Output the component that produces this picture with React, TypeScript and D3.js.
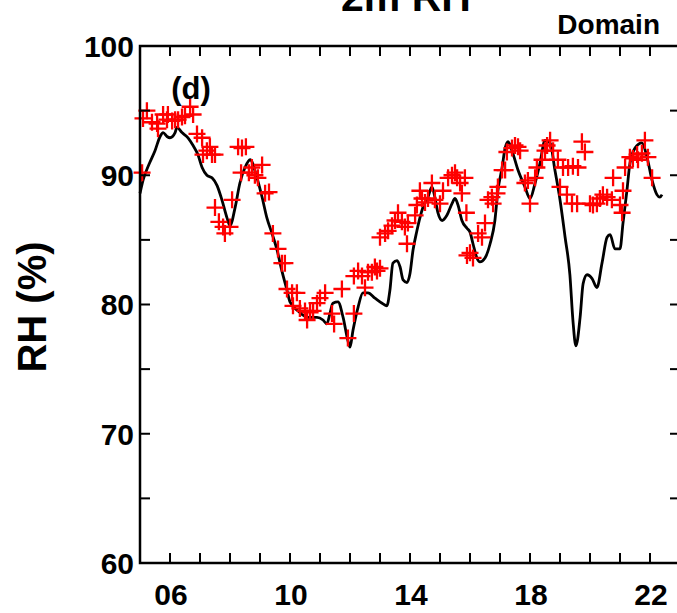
import React from "react";
import * as d3 from "d3";

// Model (black line): time (day) and RH (%)
const modelT = [5.00,5.10,5.33,5.50,5.67,5.77,5.90,6.00,6.17,6.23,6.40,6.60,6.77,6.93,7.07,7.23,7.40,7.57,7.73,7.90,8.00,8.17,8.33,8.50,8.67,8.90,9.07,9.23,9.40,9.57,9.73,9.90,10.00,10.27,10.60,10.90,11.10,11.23,11.33,11.43,11.60,11.77,11.93,12.00,12.10,12.27,12.43,12.60,12.83,13.07,13.23,13.33,13.43,13.57,13.67,13.77,13.90,14.00,14.10,14.23,14.33,14.43,14.60,14.73,14.83,14.93,15.07,15.23,15.40,15.50,15.60,15.73,15.90,16.00,16.10,16.23,16.33,16.50,16.67,16.83,16.93,17.07,17.17,17.27,17.40,17.60,17.83,18.00,18.17,18.33,18.50,18.67,18.83,19.00,19.17,19.33,19.43,19.53,19.67,19.77,19.90,20.07,20.23,20.40,20.57,20.67,20.83,21.00,21.10,21.23,21.33,21.50,21.73,21.90,22.07,22.23,22.33,22.40];
const modelRH = [88.6,89.6,91.0,91.9,93.0,93.3,93.0,92.9,93.3,93.7,93.3,92.9,92.3,91.6,90.6,90.0,89.8,89.2,88.1,86.7,86.1,87.5,89.4,90.6,91.2,89.8,88.3,86.7,85.5,84.2,82.6,81.1,80.2,79.5,79.0,79.0,78.8,78.5,79.3,80.1,80.2,79.0,77.2,76.7,78.0,79.8,80.9,80.9,80.5,80.1,79.9,81.1,83.2,83.4,82.9,81.9,81.7,82.4,84.2,85.7,86.7,87.5,88.3,89.1,88.3,87.1,86.5,86.9,87.8,88.2,87.7,86.5,85.9,85.6,84.7,83.6,83.3,83.6,84.7,86.5,88.8,90.6,92.1,92.6,91.9,90.4,89.1,88.2,89.4,90.9,92.7,92.5,90.4,88.1,85.2,82.3,78.8,76.8,79.0,81.6,82.3,82.0,81.3,83.2,85.2,85.4,84.3,84.3,86.3,88.8,90.9,92.1,92.5,91.4,89.6,88.5,88.3,88.5];

// Observations (red plus markers)
const obsT = [5.07,5.10,5.23,5.40,5.57,5.60,5.77,5.90,5.93,6.07,6.17,6.27,6.40,6.50,6.67,6.77,6.90,7.07,7.10,7.23,7.33,7.40,7.50,7.50,7.63,7.77,7.83,8.00,8.07,8.27,8.40,8.53,8.37,8.63,8.73,8.83,8.93,9.07,9.17,9.30,9.43,9.60,9.73,9.83,9.90,10.07,10.10,10.23,10.33,10.50,10.57,10.67,10.77,10.90,11.00,11.17,11.40,11.47,11.73,11.93,12.13,12.13,12.27,12.40,12.50,12.60,12.73,12.83,12.90,13.00,13.00,13.17,13.27,13.40,13.50,13.60,13.73,13.83,13.93,13.90,14.17,14.23,14.33,14.40,14.50,14.60,14.73,14.83,15.00,15.10,15.27,15.40,15.50,15.57,15.67,15.73,15.83,15.88,15.90,16.00,16.10,16.27,16.40,16.50,16.60,16.73,16.77,16.90,16.93,17.07,17.17,17.23,17.40,17.50,17.60,17.67,17.83,17.93,18.00,18.17,18.23,18.40,18.50,18.57,18.67,18.77,18.93,19.00,19.10,19.23,19.27,19.40,19.43,19.57,19.60,19.73,19.83,20.00,20.10,20.23,20.33,20.43,20.57,20.73,20.77,21.00,21.07,21.10,21.17,21.33,21.43,21.57,21.60,21.73,21.83,21.93,22.07];
const obsRH = [90.2,94.4,95.0,94.1,94.0,93.6,94.7,94.3,94.7,94.2,94.3,94.3,94.5,94.6,95.3,94.7,93.2,92.9,91.6,91.9,92.2,91.6,91.6,87.5,86.4,86.0,85.5,86.0,88.1,92.2,92.1,92.2,90.2,90.2,90.6,90.0,89.8,90.8,88.6,88.7,85.5,84.3,83.2,83.2,81.2,80.9,79.9,80.9,79.7,79.5,78.8,79.4,79.5,80.1,80.5,80.9,79.3,78.5,81.2,77.4,79.3,82.2,82.6,82.2,81.3,82.5,82.5,82.9,82.6,82.8,85.2,85.5,85.7,86.1,86.5,87.1,86.4,86.0,86.3,84.7,86.9,87.7,88.8,88.2,87.9,88.2,89.4,88.1,87.8,88.8,89.8,90.0,90.2,89.8,89.4,88.6,89.8,87.1,83.8,84.0,83.6,85.5,85.2,86.3,88.1,88.3,87.8,88.6,89.1,90.4,90.4,91.8,92.1,92.3,92.2,91.9,89.4,89.6,87.8,89.8,90.6,91.2,91.9,92.3,92.7,91.9,91.2,89.1,90.6,88.5,90.6,87.8,90.7,87.8,90.6,92.6,91.8,87.8,87.7,87.8,88.2,88.5,88.3,88.1,89.8,87.7,87.1,88.8,90.6,91.4,91.3,91.6,91.2,91.7,92.7,91.4,89.8];

const yTicks = [60, 70, 80, 90, 100];
const yMinorTicks = [65, 75, 85, 95];
const xTickLabels = ["06", "10", "14", "18", "22"];
const xLabelValues = [6, 10, 14, 18, 22];
const xMinorTicks = d3.range(6, 23, 1);

const W = 677;
const H = 613;
const FONT = "'Liberation Sans', Arial, Helvetica, sans-serif";

export default function App() {
  const x = d3.scaleLinear().domain([5, 23]).range([140, 680]);
  const y = d3.scaleLinear().domain([60, 100]).range([563, 46]);
  const left = x(5), right = x(23), top = y(100), bottom = y(60);
  const tickLen = 10;

  const line = d3
    .line<number>()
    .x((_, i) => x(modelT[i]))
    .y((d) => y(d))
    .curve(d3.curveMonotoneX);

  const plusPath = "M-8.5,0H8.5M0,-8.5V8.5";

  return (
    <svg
      width={W}
      height={H}
      style={{ position: "absolute", left: 0, top: 0, background: "#fff" }}
      fontFamily={FONT}
      fontWeight="bold"
    >
      <rect x={0} y={0} width={W} height={H} fill="#fff" />
      {/* Title (cut off at top, as in the reference) */}
      <text x={406} y={11} textAnchor="middle" fontSize={41} fill="#000">
        2m RH
      </text>
      <text x={660} y={34} textAnchor="end" fontSize={28} fill="#000">
        Domain
      </text>

      {/* model line */}
      <path d={line(modelRH) || ""} fill="none" stroke="#000" strokeWidth={2.8} strokeLinejoin="round" />

      {/* observations */}
      {obsT.map((t, i) => (
        <path
          key={i}
          d={plusPath}
          transform={`translate(${x(t)},${y(obsRH[i])})`}
          stroke="#ff0000"
          strokeWidth={2.3}
          fill="none"
        />
      ))}

      {/* frame */}
      <rect x={left} y={top} width={right - left} height={bottom - top} fill="none" stroke="#000" strokeWidth={2.5} />

      {/* y ticks */}
      {[...yTicks, ...yMinorTicks].map((v) => (
        <g key={"y" + v}>
          <line x1={left} x2={left + tickLen} y1={y(v)} y2={y(v)} stroke="#000" strokeWidth={2} />
          <line x1={right} x2={right - tickLen} y1={y(v)} y2={y(v)} stroke="#000" strokeWidth={2} />
        </g>
      ))}
      {yTicks.map((v) => (
        <text key={"yl" + v} x={134} y={y(v)} dy="0.36em" textAnchor="end" fontSize={30} fill="#000">
          {v}
        </text>
      ))}

      {/* x ticks */}
      {xMinorTicks.map((v) => (
        <g key={"x" + v}>
          <line x1={x(v)} x2={x(v)} y1={bottom} y2={bottom - tickLen} stroke="#000" strokeWidth={2} />
          <line x1={x(v)} x2={x(v)} y1={top} y2={top + tickLen} stroke="#000" strokeWidth={2} />
        </g>
      ))}
      {xLabelValues.map((v, i) => (
        <text key={"xl" + v} x={x(v) + 1} y={605} textAnchor="middle" fontSize={30} fill="#000">
          {xTickLabels[i]}
        </text>
      ))}

      {/* panel label */}
      <text x={191} y={99} textAnchor="middle" fontSize={31} fill="#000">
        (d)
      </text>

      {/* y axis label */}
      <text
        transform={`translate(46,${307}) rotate(-90)`}
        textAnchor="middle"
        fontSize={40}
        fill="#000"
      >
        RH (%)
      </text>
    </svg>
  );
}
